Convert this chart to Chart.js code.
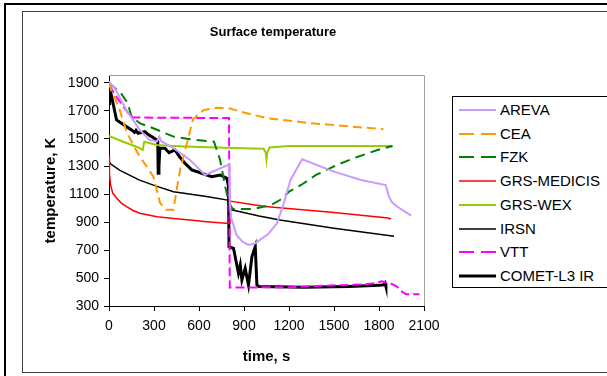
<!DOCTYPE html>
<html>
<head>
<meta charset="UTF-8" />
<title>Surface temperature</title>
<script src="https://cdn.jsdelivr.net/npm/chart.js@4"></script>
<style>
  body { margin: 0; width: 607px; height: 376px; overflow: hidden; background: #fff; position: relative; font-family: "Liberation Sans", Arial, sans-serif; }
  #frameTop { position: absolute; left: 4px; top: 3px; width: 603px; height: 2px; background: #000; }
  #frameLeft { position: absolute; left: 4px; top: 3px; width: 2px; height: 373px; background: #000; }
  #area { position: absolute; left: 22px; top: 11px; width: 600px; height: 360px; border: 1px solid #404040; }
  #chart { position: absolute; left: 0; top: 0; }
  #legend { position: absolute; left: 452px; top: 96px; width: 170px; height: 190px; border: 1px solid #000; background: #fff; }
  .row { position: absolute; left: 0; height: 20px; font-size: 15px; color: #000; white-space: nowrap; }
  .row svg { position: absolute; left: 6px; top: 5px; }
  .row span { position: absolute; left: 47px; top: 1px; }
</style>
</head>
<body>
<div id="frameTop"></div>
<div id="frameLeft"></div>
<div id="area"></div>
<canvas id="chart" width="546" height="376"></canvas>
<div id="legend"></div>
<script>
  // time in s, temperature in K
  const arevaT = [0, 40, 70, 115, 160, 205, 270, 320, 335, 350, 430, 540, 640, 800, 805, 815, 850, 890, 930, 975, 1020, 1060, 1120, 1165, 1210, 1288, 1500, 1680, 1845, 1865, 1885, 1925, 2015];
  const arevaK = [1910, 1860, 1800, 1706, 1635, 1563, 1490, 1480, 1515, 1480, 1432, 1348, 1240, 1315, 1050, 930, 810, 762, 738, 750, 785, 815, 893, 1037, 1204, 1353, 1264, 1204, 1168, 1090, 1045, 1010, 948];

  const ceaT = [0, 20, 40, 70, 120, 195, 295, 340, 380, 430, 450, 475, 520, 560, 630, 720, 800, 900, 1050, 1340, 1500, 1830];
  const ceaK = [1900, 1830, 1790, 1710, 1540, 1390, 1230, 1040, 990, 990, 1130, 1280, 1470, 1640, 1705, 1722, 1718, 1688, 1648, 1612, 1598, 1568];

  const fzkT = [0, 80, 125, 150, 205, 295, 430, 540, 700, 740, 775, 800, 825, 960, 1020, 1080, 1140, 1200, 1280, 1380, 1520, 1660, 1790, 1890];
  const fzkK = [1900, 1826, 1754, 1658, 1611, 1575, 1515, 1496, 1479, 1350, 1156, 1040, 995, 995, 1010, 1025, 1060, 1120, 1168, 1240, 1312, 1371, 1419, 1448];

  const medicisT = [0, 3, 10, 25, 50, 80, 115, 160, 205, 320, 430, 540, 650, 780, 800, 805, 1040, 1500, 1860, 1870, 1880];
  const medicisK = [1380, 1250, 1170, 1110, 1075, 1040, 1015, 985, 965, 940, 928, 917, 905, 893, 893, 1053, 1013, 970, 932, 925, 930];

  const wexT = [0, 90, 200, 225, 235, 320, 430, 600, 900, 1030, 1045, 1050, 1055, 1070, 1200, 1890];
  const wexK = [1520, 1480, 1435, 1420, 1478, 1455, 1448, 1440, 1432, 1428, 1400, 1350, 1400, 1437, 1447, 1448];

  const irsnT = [0, 10, 70, 200, 300, 430, 650, 790, 815, 860, 1000, 1140, 1500, 1900];
  const irsnK = [1340, 1320, 1275, 1205, 1165, 1120, 1085, 1060, 990, 980, 945, 917, 858, 800];

  const vttT = [0, 50, 100, 145, 160, 800, 805, 1200, 1500, 1700, 1780, 1820, 1840, 1890, 1920, 1945, 1980, 2070];
  const vttK = [1885, 1800, 1725, 1660, 1652, 1648, 432, 435, 448, 455, 465, 478, 470, 456, 440, 408, 385, 385];

  const cometT = [0, 4, 27, 50, 83, 150, 170, 180, 194, 215, 239, 262, 284, 317, 325, 328, 333, 339, 373, 400, 440, 470, 506, 552, 618, 685, 741, 786, 797, 800, 830, 863, 875, 886, 908, 930, 953, 975, 986, 1000, 1300, 1600, 1800, 1830, 1840, 1846];
  const cometK = [1750, 1870, 1754, 1635, 1611, 1563, 1545, 1560, 1539, 1545, 1551, 1530, 1515, 1491, 1480, 1252, 1300, 1432, 1432, 1400, 1420, 1370, 1324, 1276, 1252, 1228, 1240, 1216, 1156, 726, 714, 535, 594, 487, 570, 451, 654, 726, 451, 440, 435, 440, 448, 452, 465, 440];

  const xTicks = [0, 300, 600, 900, 1200, 1500, 1800, 2100];
  const yTicks = [300, 500, 700, 900, 1100, 1300, 1500, 1700, 1900];

  const series = [
    { label: 'AREVA', t: arevaT, k: arevaK, color: '#CC99FF', width: 2, dash: [] },
    { label: 'CEA', t: ceaT, k: ceaK, color: '#FF9900', width: 2, dash: [9, 5] },
    { label: 'FZK', t: fzkT, k: fzkK, color: '#008000', width: 2, dash: [10, 6] },
    { label: 'GRS-MEDICIS', t: medicisT, k: medicisK, color: '#FF0000', width: 1.5, dash: [] },
    { label: 'GRS-WEX', t: wexT, k: wexK, color: '#99CC00', width: 2, dash: [] },
    { label: 'IRSN', t: irsnT, k: irsnK, color: '#000000', width: 1.5, dash: [] },
    { label: 'VTT', t: vttT, k: vttK, color: '#FF00FF', width: 2, dash: [9, 4] },
    { label: 'COMET-L3 IR', t: cometT, k: cometK, color: '#000000', width: 3, dash: [] }
  ];

  const fam = '"Liberation Sans", Arial, sans-serif';

  const datasets = series.map(s => ({
    label: s.label,
    data: s.t.map((t, i) => ({ x: t, y: s.k[i] })),
    borderColor: s.color,
    borderWidth: s.width,
    borderDash: s.dash,
    pointRadius: 0,
    tension: 0,
    fill: false
  }));

  // grey top and right edge of the plot area
  const plotBorder = {
    id: 'plotBorder',
    beforeDatasetsDraw(chart) {
      const { ctx, chartArea: a } = chart;
      ctx.save();
      ctx.strokeStyle = '#a0a0a0';
      ctx.lineWidth = 1;
      ctx.beginPath();
      ctx.moveTo(a.left, a.top + 0.5);
      ctx.lineTo(a.right + 0.5, a.top + 0.5);
      ctx.lineTo(a.right + 0.5, a.bottom);
      ctx.stroke();
      ctx.restore();
    }
  };

  new Chart(document.getElementById('chart'), {
    type: 'line',
    data: { datasets },
    options: {
      responsive: false,
      animation: false,
      devicePixelRatio: 1,
      layout: { padding: 0 },
      plugins: {
        legend: { display: false },
        tooltip: { enabled: false },
        title: {
          display: true, text: 'Surface temperature', color: '#000',
          font: { family: fam, size: 13, weight: 'bold' },
          padding: { top: 25, bottom: 34.4 }
        }
      },
      scales: {
        x: {
          type: 'linear', min: 0, max: 2100,
          afterBuildTicks: s => { s.ticks = xTicks.map(v => ({ value: v })); },
          afterFit: s => { s.height = 70; },
          grid: { drawOnChartArea: false, color: '#000', tickLength: 5 },
          border: { color: '#000', width: 1 },
          ticks: { color: '#000', font: { family: fam, size: 14 }, padding: 7, maxRotation: 0, autoSkip: false, callback: v => String(v) },
          title: { display: true, text: 'time, s', color: '#000', font: { family: fam, size: 15, weight: 'bold' }, padding: { top: 0, bottom: 10 } }
        },
        y: {
          min: 300, max: 1957,
          afterBuildTicks: s => { s.ticks = yTicks.map(v => ({ value: v })); },
          afterFit: s => { s.width = 109; },
          grid: { drawOnChartArea: false, color: '#000', tickLength: 5 },
          border: { color: '#000', width: 1 },
          ticks: { color: '#000', font: { family: fam, size: 14 }, padding: 5, autoSkip: false, callback: v => String(v) },
          title: { display: true, text: 'temperature, K', color: '#000', font: { family: fam, size: 15, weight: 'bold' }, padding: { top: 42, bottom: 0 } }
        },
        y2: {
          position: 'right', min: 0, max: 1,
          grid: { display: false }, border: { display: false }, ticks: { display: false },
          afterFit: s => { s.width = 122; }
        }
      }
    },
    plugins: [plotBorder]
  });

  // legend box, built from the same series list
  const legend = document.getElementById('legend');
  series.forEach((s, i) => {
    const row = document.createElement('div');
    row.className = 'row';
    row.style.top = (3 + i * 23.7) + 'px';
    const svg = document.createElementNS('http://www.w3.org/2000/svg', 'svg');
    svg.setAttribute('width', '38');
    svg.setAttribute('height', '10');
    const ln = document.createElementNS('http://www.w3.org/2000/svg', 'line');
    ln.setAttribute('x1', '0'); ln.setAttribute('x2', '37');
    ln.setAttribute('y1', '5'); ln.setAttribute('y2', '5');
    ln.setAttribute('stroke', s.color);
    ln.setAttribute('stroke-width', s.width);
    if (s.dash.length) ln.setAttribute('stroke-dasharray', '15,7');
    svg.appendChild(ln);
    const txt = document.createElement('span');
    txt.textContent = s.label;
    row.appendChild(svg);
    row.appendChild(txt);
    legend.appendChild(row);
  });
</script>
</body>
</html>
